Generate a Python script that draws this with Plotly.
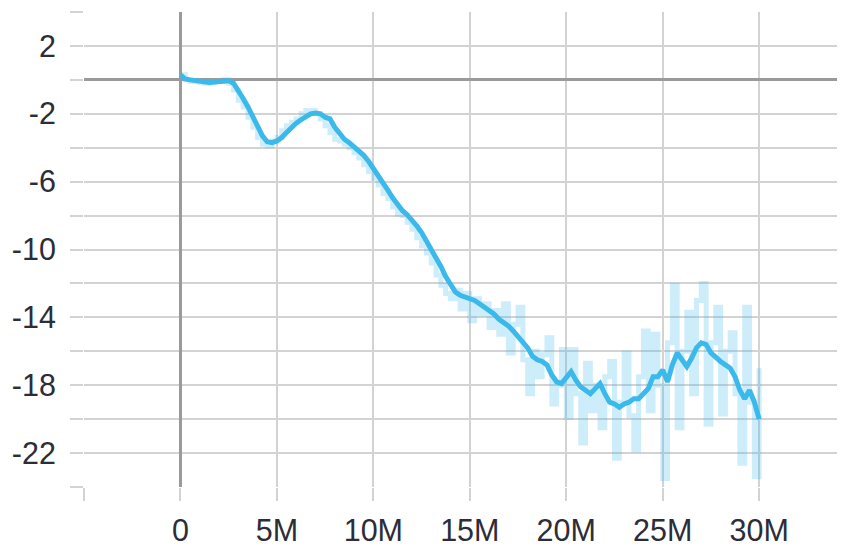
import plotly.graph_objects as go

# ---- data (x in steps, y values) ----
smooth_x_m = [i * 0.25 for i in range(121)]
smooth_y = [
    0.3, 0.05, 0.0, -0.05, -0.1, -0.12, -0.15, -0.12, -0.1, -0.08, -0.05, -0.2,
    -0.6, -1.1, -1.6, -2.2, -2.8, -3.3, -3.65, -3.7, -3.6, -3.4, -3.1, -2.8,
    -2.55, -2.35, -2.15, -2.0, -1.95, -2.0, -2.2, -2.3, -2.8, -3.2, -3.5, -3.7,
    -3.95, -4.2, -4.45, -4.8, -5.2, -5.6, -6.05, -6.5, -6.95, -7.35, -7.7, -7.95,
    -8.25, -8.6, -9.0, -9.5, -10.0, -10.45, -11.0, -11.6, -12.1, -12.5, -12.7, -12.8,
    -12.9, -13.0, -13.2, -13.4, -13.6, -13.8, -14.1, -14.3, -14.5, -14.8, -15.1, -15.4,
    -15.8, -16.3, -16.5, -16.6, -16.8, -17.4, -17.8, -17.9, -17.5, -17.2, -17.7, -18.1,
    -18.3, -18.5, -18.2, -17.9, -18.5, -19.0, -19.1, -19.3, -19.1, -19.0, -18.8, -18.8,
    -18.5, -18.2, -17.5, -17.5, -17.1, -17.8, -16.8, -16.1, -16.5, -16.9, -16.4, -15.8,
    -15.5, -15.6, -16.1, -16.4, -16.6, -16.8, -17.0, -17.5, -18.3, -18.8, -18.3, -19.0,
    -20.0,
]
raw_y = [
    0.3, 0.0, -0.1, -0.1, -0.15, -0.2, -0.15, -0.1, -0.1, 0.0, -0.2, -0.6,
    -1.2, -1.6, -2.2, -2.8, -3.4, -3.8, -3.9, -3.6, -3.4, -3.0, -2.7, -2.5,
    -2.3, -2.0, -1.8, -1.8, -2.0, -2.3, -2.7, -3.1, -3.5, -3.6, -3.8, -4.0,
    -4.3, -4.6, -5.0, -5.4, -5.8, -6.2, -6.7, -7.0, -7.5, -7.9, -8.0, -8.4,
    -8.8, -9.3, -9.8, -10.2, -10.8, -11.5, -12.1, -12.6, -12.9, -12.4, -13.5, -12.6,
    -14.2, -12.9, -13.8, -13.2, -14.6, -13.6, -15.0, -13.2, -16.1, -14.4, -13.4, -16.5,
    -18.5, -16.0, -17.5, -16.2, -15.2, -19.1, -18.0, -15.9, -19.9, -15.9, -18.5, -21.4,
    -16.7, -19.5, -18.0, -20.5, -17.5, -16.6, -22.3, -19.0, -16.1, -19.8, -21.8, -17.5,
    -14.8, -19.5, -15.0, -18.0, -23.5, -15.5, -12.1, -20.5, -16.0, -13.7, -18.5, -13.0,
    -12.0, -20.3, -15.5, -13.4, -19.7, -16.0, -14.9, -18.5, -22.6, -13.4, -19.0, -23.4,
    -17.0,
]
x_steps = [v * 1e6 for v in smooth_x_m]

x_tickvals = [-5e6, 0, 5e6, 10e6, 15e6, 20e6, 25e6, 30e6, 35e6]
x_ticktext = ["", "0", "5M", "10M", "15M", "20M", "25M", "30M", ""]
y_tickvals = [4, 2, 0, -2, -4, -6, -8, -10, -12, -14, -16, -18, -20, -22, -24]
y_ticktext = ["", "2", "", "-2", "", "-6", "", "-10", "", "-14", "", "-18", "", "-22", ""]

fig = go.Figure()
fig.add_trace(go.Scatter(
    x=x_steps, y=raw_y, mode="lines", line_shape="hv",
    line=dict(color="rgba(59,185,235,0.25)", width=5), hoverinfo="skip",
))
fig.add_trace(go.Scatter(
    x=x_steps, y=smooth_y, mode="lines",
    line=dict(color="#3bb9eb", width=5),
))

grid = "#d3d3d3"
# the page body adds an 8px offset, so the figure is sized to the remaining area
fig.update_layout(
    width=837, height=541,
    margin=dict(l=76, r=0, t=4, b=62),
    paper_bgcolor="white", plot_bgcolor="white",
    showlegend=False,
    font=dict(family="Liberation Sans, Arial, sans-serif", size=30.5, color="#2d2d38"),
    xaxis=dict(
        range=[-5e6, 34.45e6], tickvals=x_tickvals, ticktext=x_ticktext,
        showgrid=True, gridcolor=grid, gridwidth=2,
        zeroline=True, zerolinecolor="#9a9a9a", zerolinewidth=3,
        ticks="outside", ticklen=13, tickwidth=2, tickcolor=grid,
        showline=False, fixedrange=True, automargin=False,
        ticklabelstandoff=3,
    ),
    yaxis=dict(
        range=[-24, 4], tickvals=y_tickvals, ticktext=y_ticktext,
        showgrid=True, gridcolor=grid, gridwidth=2,
        zeroline=True, zerolinecolor="#9a9a9a", zerolinewidth=3,
        ticks="outside", ticklen=13, tickwidth=2, tickcolor=grid,
        showline=False, fixedrange=True, automargin=False,
        ticklabelstandoff=8,
    ),
)
fig.write_html("out.html")
